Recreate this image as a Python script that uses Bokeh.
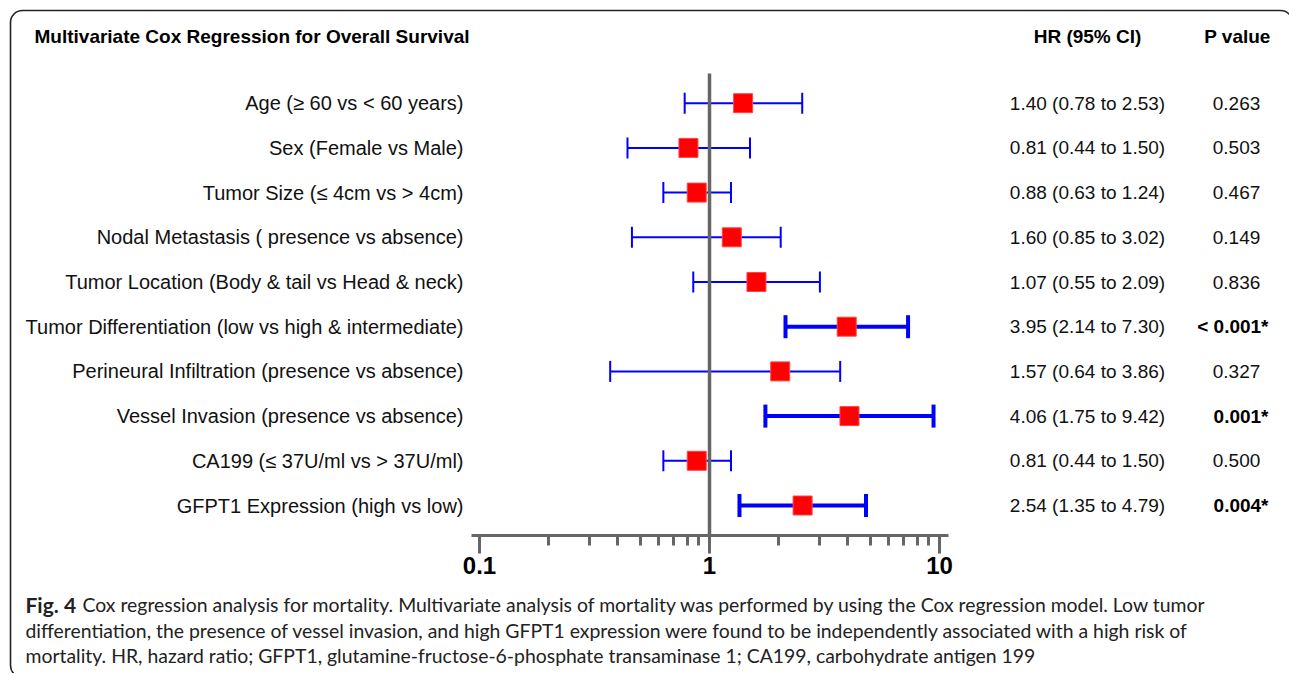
from bokeh.plotting import figure
from bokeh.models import ColumnDataSource, Range1d, LogAxis, FixedTicker
from bokeh.core.properties import value
from bokeh.embed import file_html
from bokeh.resources import INLINE

# ---------------- data ----------------
title = "Multivariate Cox Regression for Overall Survival"
col_hr = "HR (95% CI)"
col_p = "P value"

categories = [
    "Age (\u2265 60 vs < 60 years)",
    "Sex (Female vs Male)",
    "Tumor Size (\u2264 4cm vs > 4cm)",
    "Nodal Metastasis ( presence vs absence)",
    "Tumor Location (Body & tail vs Head & neck)",
    "Tumor Differentiation (low vs high & intermediate)",
    "Perineural Infiltration (presence vs absence)",
    "Vessel Invasion (presence vs absence)",
    "CA199 (\u2264 37U/ml vs > 37U/ml)",
    "GFPT1 Expression (high vs low)",
]
# marker positions as drawn in the picture
hr_plot = [1.40, 0.81, 0.88, 1.25, 1.60, 3.95, 2.03, 4.06, 0.88, 2.54]
lo_plot = [0.78, 0.44, 0.63, 0.46, 0.85, 2.14, 0.37, 1.75, 0.63, 1.35]
hi_plot = [2.53, 1.50, 1.24, 2.04, 3.02, 7.30, 3.70, 9.42, 1.24, 4.79]
# printed table
hr_text = [
    "1.40 (0.78 to 2.53)",
    "0.81 (0.44 to 1.50)",
    "0.88 (0.63 to 1.24)",
    "1.60 (0.85 to 3.02)",
    "1.07 (0.55 to 2.09)",
    "3.95 (2.14 to 7.30)",
    "1.57 (0.64 to 3.86)",
    "4.06 (1.75 to 9.42)",
    "0.81 (0.44 to 1.50)",
    "2.54 (1.35 to 4.79)",
]
p_text = ["0.263", "0.503", "0.467", "0.149", "0.836",
          "< 0.001*", "0.327", "0.001*", "0.500", "0.004*"]
significant = [False, False, False, False, False, True, False, True, False, True]

tick_major = [0.1, 1, 10]
tick_labels = ["0.1", "1", "10"]
tick_minor = [0.2, 0.3, 0.4, 0.5, 0.6, 0.7, 0.8, 0.9, 2, 3, 4, 5, 6, 7, 8, 9]

caption_bold = "Fig. 4"
caption_lines = [
    "Cox regression analysis for mortality. Multivariate analysis of mortality was performed by using the Cox regression model. Low tumor",
    "differentiation, the presence of vessel invasion, and high GFPT1 expression were found to be independently associated with a high risk of",
    "mortality. HR, hazard ratio; GFPT1, glutamine-fructose-6-phosphate transaminase 1; CA199, carbohydrate antigen 199",
]

# ---------------- layout helpers (canvas pixels -> data) ----------------
W, H = 1289, 673
X1PX, DEC = 709.0, 230.0      # canvas x of HR = 1, pixels per decade
ROW0, ROWH = 102.7, 44.7      # canvas y of first row, row spacing


def xd(px):
    return 10 ** ((px - X1PX) / DEC)


def yd(py):
    return (py - ROW0) / ROWH


p = figure(width=W, height=H, x_axis_type="log", x_axis_location=None,
           y_axis_location=None,
           x_range=Range1d(xd(0), xd(W)), y_range=Range1d(yd(H), yd(0)),
           output_backend="svg", toolbar_location=None, min_border=0,
           outline_line_color=None, background_fill_color="white")
for g in list(p.xgrid) + list(p.ygrid):
    g.visible = False

ARIAL = value("Liberation Sans")

# rounded frame (right and bottom edges fall just outside the picture)
p.quad(left=[xd(10)], right=[xd(1292)], top=[yd(10)], bottom=[yd(677)],
       fill_color=None, line_color="#222222", line_width=1.6, border_radius=12)

rows = list(range(len(categories)))
src = ColumnDataSource(dict(
    y=rows, hr=hr_plot, lo=lo_plot, hi=hi_plot, cat=categories,
    hrt=hr_text, pt=p_text,
))
thin = [i for i in rows if not significant[i]]
bold = [i for i in rows if significant[i]]


def subset(ids, cap):
    return ColumnDataSource(dict(
        y=[rows[i] for i in ids], lo=[lo_plot[i] for i in ids],
        hi=[hi_plot[i] for i in ids],
        ylo=[rows[i] - cap for i in ids], yhi=[rows[i] + cap for i in ids],
        pt=[p_text[i] for i in ids],
    ))


thin_src = subset(thin, 10.5 / ROWH)
bold_src = subset(bold, 11.5 / ROWH)

BLUE = "#0000ff"
for s, lw in ((thin_src, 2), (bold_src, 4)):
    p.segment(x0="lo", x1="hi", y0="y", y1="y", source=s, line_color=BLUE, line_width=lw)
    p.segment(x0="lo", x1="lo", y0="ylo", y1="yhi", source=s, line_color=BLUE, line_width=lw)
    p.segment(x0="hi", x1="hi", y0="ylo", y1="yhi", source=s, line_color=BLUE, line_width=lw)

# reference line at HR = 1
p.segment(x0=[1], x1=[1], y0=[yd(73)], y1=[yd(535)], line_color="#666666", line_width=3.5)

# hazard ratio squares
p.scatter(x="hr", y="y", source=src, marker="square", size=19,
          fill_color="#ff0000", line_color="#ff4444", line_width=1)

# axis
ax = LogAxis(fixed_location=yd(535), bounds=(xd(471), xd(948)),
             ticker=FixedTicker(ticks=tick_major, minor_ticks=tick_minor))
ax.major_label_overrides = {t: l for t, l in zip(tick_major, tick_labels)}
ax.axis_line_color = "#666666"
ax.axis_line_width = 3
ax.major_tick_line_color = "#666666"
ax.major_tick_line_width = 3
ax.minor_tick_line_color = "#666666"
ax.minor_tick_line_width = 3
ax.major_tick_in = 0
ax.major_tick_out = 18
ax.minor_tick_in = 0
ax.minor_tick_out = 10
ax.major_label_standoff = 3
ax.major_label_text_font = "Liberation Sans"
ax.major_label_text_font_size = "24px"
ax.major_label_text_font_style = "bold"
ax.major_label_text_color = "#000000"
p.add_layout(ax, "below")

# row labels
p.text(x=xd(463), y="y", text="cat", source=src, text_align="right",
       text_baseline="middle", text_font=ARIAL, text_font_size="20px",
       text_color="#111111")
# HR column
p.text(x=xd(1087), y="y", text="hrt", source=src, text_align="center",
       text_baseline="middle", text_font=ARIAL, text_font_size="19px",
       text_color="#111111")
# P column
p.text(x=xd(1236), y="y", text="pt", source=thin_src, text_align="center",
       text_baseline="middle", text_font=ARIAL, text_font_size="19px",
       text_color="#111111")
p.text(x=xd(1268), y="y", text="pt", source=bold_src, text_align="right",
       text_baseline="middle", text_font=ARIAL, text_font_size="19px",
       text_font_style="bold", text_color="#000000")

# headers
p.text(x=[xd(34)], y=[yd(36)], text=[title], text_align="left", text_baseline="middle",
       text_font=ARIAL, text_font_size="19px", text_font_style="bold", text_color="#000000")
p.text(x=[xd(1087)], y=[yd(36)], text=[col_hr], text_align="center", text_baseline="middle",
       text_font=ARIAL, text_font_size="19px", text_font_style="bold", text_color="#000000")
p.text(x=[xd(1237)], y=[yd(36)], text=[col_p], text_align="center", text_baseline="middle",
       text_font=ARIAL, text_font_size="19px", text_font_style="bold", text_color="#000000")

# caption
CAP = value("Lato")
p.text(x=[xd(25)], y=[yd(604)], text=[caption_bold], text_align="left", text_baseline="middle",
       text_font=CAP, text_font_size="21px", text_font_style="bold", text_color="#222222")
p.text(x=[xd(82), xd(25), xd(25)], y=[yd(604), yd(630), yd(655)], text=caption_lines,
       text_align="left", text_baseline="middle",
       text_font=CAP, text_font_size="19.4px", text_color="#222222")

open("out.html", "w").write(file_html(p, INLINE))
